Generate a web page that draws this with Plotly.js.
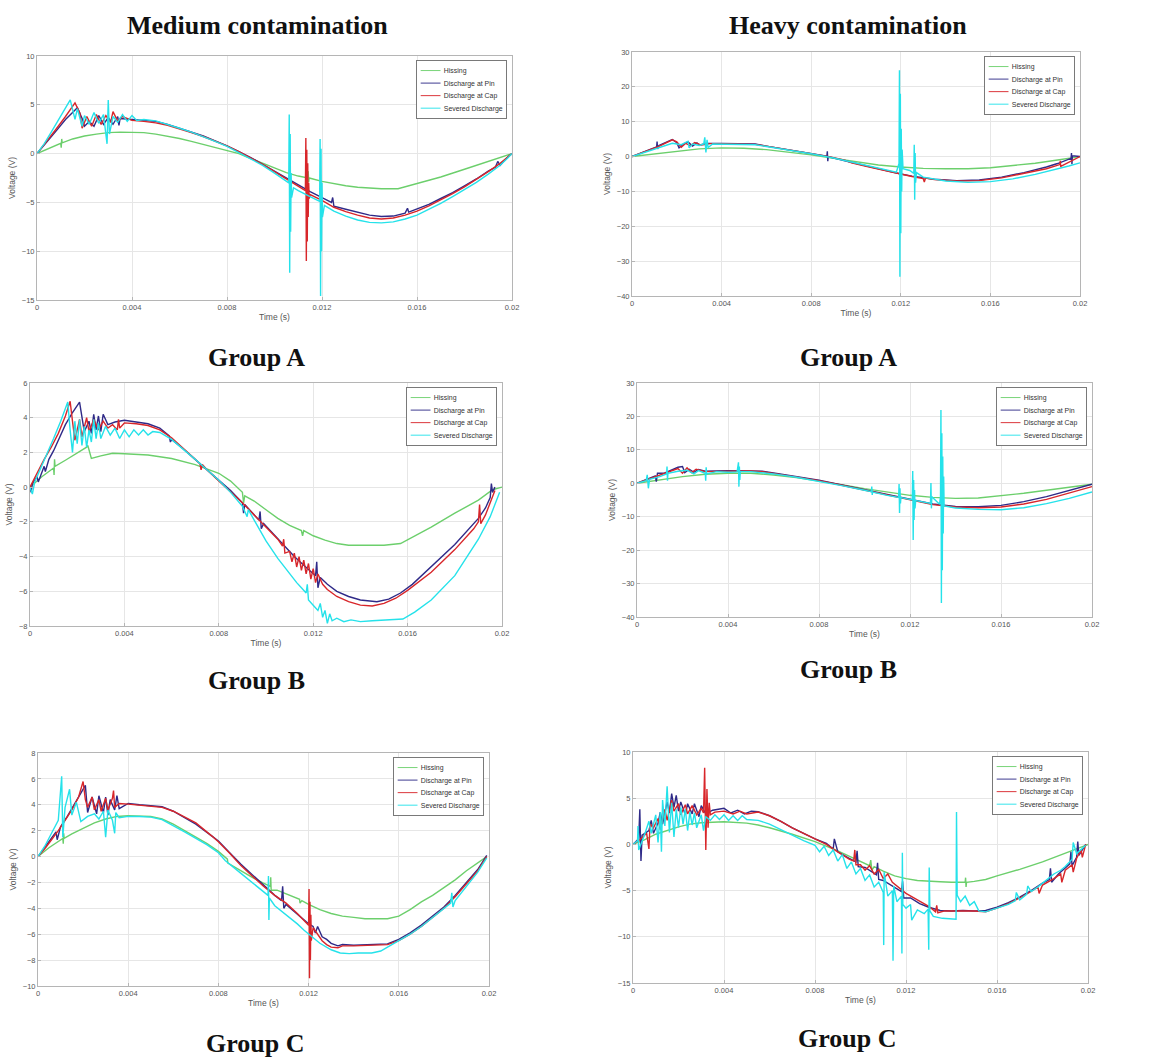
<!DOCTYPE html>
<html><head><meta charset="utf-8">
<script src="https://cdn.plot.ly/plotly-3.0.1.min.js"></script>
<style>html,body{margin:0;padding:0;background:#fff}#chart{width:1156px;height:1059px}</style>
</head><body><div id="chart"></div>
<script>
// ---------- DATA: [time (s), voltage (V)] ----------
const seriesNames = ["Hissing", "Discharge at Pin", "Discharge at Cap", "Severed Discharge"];
const xTickVals = [0, 0.004, 0.008, 0.012, 0.016, 0.02];
const xTickText = ["0", "0.004", "0.008", "0.012", "0.016", "0.02"];
const columnTitles = ["Medium contamination", "Heavy contamination"];
const groupLabels = ["Group A", "Group B", "Group C"];

// Medium contamination, Group A
const medA_hiss = [[0,0],[0.0005,0.55],[0.001,1.05],[0.00102,0.6],[0.00104,1.5],[0.00106,1.1],[0.0015,1.5],[0.002,1.8],[0.0025,2.0],[0.003,2.15],[0.0035,2.2],[0.004,2.2],[0.0045,2.15],[0.005,2.0],[0.0055,1.8],[0.006,1.55],[0.0065,1.25],[0.007,0.95],[0.0075,0.65],[0.008,0.35],[0.0085,0.0],[0.009,-0.5],[0.0095,-1.0],[0.01,-1.5],[0.0105,-1.95],[0.011,-2.3],[0.0114,-2.5],[0.01142,-1.8],[0.01144,-2.9],[0.01146,-2.5],[0.012,-2.85],[0.0125,-3.1],[0.013,-3.3],[0.0135,-3.45],[0.014,-3.55],[0.0145,-3.6],[0.0152,-3.6],[0.016,-3.1],[0.017,-2.4],[0.018,-1.6],[0.019,-0.8],[0.0198,-0.1],[0.02,0]];
const medA_pin = [[0,0],[0.0004,1.1],[0.0008,2.3],[0.0012,3.5],[0.0017,4.7],[0.0019,3.6],[0.002,2.8],[0.0022,3.3],[0.0024,2.8],[0.0026,3.9],[0.0028,3.0],[0.003,3.7],[0.0032,3.0],[0.0034,3.8],[0.00345,2.9],[0.0035,3.6],[0.004,3.5],[0.0045,3.45],[0.005,3.3],[0.0055,3.0],[0.006,2.6],[0.0065,2.2],[0.007,1.8],[0.0075,1.3],[0.008,0.8],[0.0085,0.2],[0.009,-0.4],[0.0095,-1.1],[0.01,-1.8],[0.0105,-2.5],[0.011,-3.2],[0.0115,-3.9],[0.012,-4.5],[0.0124,-5.0],[0.01245,-4.5],[0.0125,-5.4],[0.013,-5.7],[0.0135,-6.0],[0.014,-6.3],[0.0145,-6.45],[0.015,-6.4],[0.0155,-6.1],[0.0156,-5.6],[0.01565,-6.0],[0.016,-5.7],[0.0165,-5.2],[0.017,-4.6],[0.0175,-4.0],[0.018,-3.3],[0.0185,-2.6],[0.019,-1.8],[0.0193,-1.4],[0.0194,-0.8],[0.0195,-1.2],[0.0198,-0.4],[0.02,0]];
const medA_cap = [[0,0],[0.0004,1.2],[0.0008,2.5],[0.0012,3.8],[0.0016,5.2],[0.0018,4.2],[0.0019,2.6],[0.0021,3.8],[0.0023,2.8],[0.0025,4.0],[0.0027,3.0],[0.0029,3.9],[0.0031,3.2],[0.0032,4.3],[0.0034,3.3],[0.0036,3.8],[0.004,3.4],[0.0045,3.3],[0.005,3.15],[0.0055,2.9],[0.006,2.55],[0.0065,2.15],[0.007,1.75],[0.0075,1.3],[0.008,0.8],[0.0085,0.2],[0.009,-0.45],[0.0095,-1.1],[0.01,-1.85],[0.0105,-2.6],[0.011,-3.3],[0.0113,-3.8],[0.01132,1.6],[0.01134,-11.0],[0.01136,0.4],[0.01138,-9.0],[0.0114,-1.0],[0.01142,-6.5],[0.01144,-3.0],[0.01146,-4.6],[0.0115,-4.2],[0.012,-4.8],[0.0125,-5.5],[0.013,-5.95],[0.0135,-6.3],[0.014,-6.6],[0.0145,-6.7],[0.015,-6.6],[0.0155,-6.3],[0.016,-5.9],[0.0165,-5.35],[0.017,-4.75],[0.0175,-4.1],[0.018,-3.4],[0.0185,-2.65],[0.019,-1.85],[0.0195,-1.0],[0.0198,-0.4],[0.02,0]];
const medA_sev = [[0,0],[0.0003,1.0],[0.0006,2.2],[0.001,3.8],[0.0014,5.5],[0.0016,3.5],[0.0017,4.6],[0.0019,2.8],[0.002,3.9],[0.0022,3.0],[0.0024,4.2],[0.0026,3.1],[0.0028,4.0],[0.00295,1.0],[0.003,5.5],[0.00305,2.0],[0.0032,3.8],[0.0034,3.2],[0.0036,4.0],[0.0038,3.3],[0.004,3.9],[0.0042,3.4],[0.0045,3.5],[0.005,3.35],[0.0055,3.0],[0.006,2.6],[0.0065,2.2],[0.007,1.75],[0.0075,1.25],[0.008,0.75],[0.0085,0.1],[0.009,-0.5],[0.0095,-1.2],[0.01,-2.0],[0.0104,-2.7],[0.0106,-3.0],[0.01062,4.0],[0.01064,-12.2],[0.01066,2.0],[0.01068,-8.0],[0.0107,-2.0],[0.01072,-4.5],[0.0108,-3.5],[0.011,-3.8],[0.0115,-4.4],[0.0119,-4.9],[0.01192,1.5],[0.01194,-14.6],[0.01196,0.5],[0.01198,-10.0],[0.012,-3.0],[0.01202,-6.5],[0.0121,-5.3],[0.0125,-5.9],[0.013,-6.4],[0.0135,-6.8],[0.014,-7.05],[0.0145,-7.1],[0.015,-7.0],[0.0155,-6.7],[0.016,-6.3],[0.0165,-5.7],[0.017,-5.1],[0.0175,-4.4],[0.018,-3.7],[0.0185,-2.95],[0.019,-2.1],[0.0195,-1.2],[0.0198,-0.5],[0.02,0]];

// Heavy contamination, Group A
const heavA_hiss = [[0,0],[0.001,0.8],[0.002,1.6],[0.003,2.2],[0.004,2.5],[0.005,2.4],[0.006,2.0],[0.007,1.3],[0.008,0.5],[0.0085,0.0],[0.009,-0.5],[0.01,-1.5],[0.011,-2.4],[0.012,-3.0],[0.013,-3.4],[0.014,-3.5],[0.015,-3.5],[0.016,-3.2],[0.017,-2.6],[0.018,-1.9],[0.019,-1.0],[0.0197,-0.3],[0.02,0]];
const heavA_pin = [[0,0],[0.0006,1.5],[0.0011,2.8],[0.00112,4.3],[0.00114,2.2],[0.0012,3.2],[0.0018,4.9],[0.002,4.0],[0.0021,2.5],[0.0023,3.6],[0.0025,4.2],[0.0027,3.0],[0.0029,3.9],[0.003,3.3],[0.0033,3.8],[0.004,3.8],[0.005,3.7],[0.0055,3.6],[0.006,3.0],[0.007,2.0],[0.008,0.9],[0.0087,0.1],[0.00872,1.5],[0.00874,-1.3],[0.00876,0],[0.0095,-1.2],[0.0105,-2.8],[0.0115,-4.3],[0.012,-5.0],[0.0125,-5.6],[0.013,-6.1],[0.0135,-6.5],[0.0145,-6.9],[0.0155,-6.7],[0.0165,-5.9],[0.0175,-4.6],[0.0185,-3.0],[0.019,-2.0],[0.0196,-0.5],[0.01962,1.0],[0.01964,-2.2],[0.01966,0.2],[0.02,0]];
const heavA_cap = [[0,0],[0.0006,1.4],[0.0012,2.9],[0.0018,4.8],[0.002,4.2],[0.0022,2.7],[0.0024,3.8],[0.0026,3.1],[0.0028,4.0],[0.0031,3.3],[0.0035,3.7],[0.004,3.7],[0.005,3.6],[0.0055,3.5],[0.006,3.0],[0.007,2.0],[0.008,0.9],[0.0088,0],[0.0095,-1.0],[0.0098,-1.8],[0.0105,-2.9],[0.0115,-4.4],[0.012,-5.1],[0.0125,-5.7],[0.013,-6.3],[0.01305,-7.3],[0.0131,-6.2],[0.0135,-6.6],[0.0145,-7.0],[0.0155,-6.9],[0.0165,-6.1],[0.0175,-4.9],[0.0185,-3.5],[0.0191,-2.3],[0.01912,-1.2],[0.01914,-2.8],[0.0195,-1.6],[0.02,0]];
const heavA_sev = [[0,0],[0.0006,1.2],[0.0012,2.6],[0.0018,3.8],[0.0022,3.4],[0.0025,4.4],[0.00255,2.5],[0.0027,3.6],[0.003,3.2],[0.0032,3.6],[0.00325,5.5],[0.0033,1.2],[0.00335,4.8],[0.0034,2.6],[0.0036,3.6],[0.004,3.6],[0.005,3.5],[0.0055,3.4],[0.006,2.9],[0.007,1.9],[0.008,0.8],[0.009,-0.4],[0.01,-1.8],[0.011,-3.3],[0.0118,-4.5],[0.01192,-2.0],[0.01194,24.8],[0.01196,-34.5],[0.01198,18.0],[0.012,-22.0],[0.01202,8.0],[0.01204,-10.0],[0.01206,2.0],[0.0121,-3.5],[0.0124,-4.0],[0.01258,-4.8],[0.0126,3.4],[0.01262,-12.4],[0.01264,1.0],[0.01266,-7.5],[0.0127,-4.6],[0.013,-5.9],[0.014,-7.0],[0.015,-7.4],[0.016,-7.2],[0.017,-6.4],[0.018,-5.1],[0.019,-3.6],[0.0195,-2.7],[0.02,-1.8]];

// Medium contamination, Group B
const medB_hiss = [[0,0],[0.0005,0.6],[0.001,1.1],[0.00102,0.7],[0.00104,1.6],[0.00106,1.2],[0.0015,1.55],[0.002,1.95],[0.0024,2.3],[0.00245,2.4],[0.0026,1.65],[0.003,1.8],[0.0035,1.95],[0.004,1.92],[0.005,1.85],[0.006,1.65],[0.007,1.3],[0.008,0.8],[0.0085,0.35],[0.009,-0.3],[0.00905,-0.9],[0.0091,-0.5],[0.0095,-0.8],[0.01,-1.3],[0.0105,-1.8],[0.011,-2.2],[0.0115,-2.5],[0.01155,-2.8],[0.0116,-2.5],[0.012,-2.8],[0.0125,-3.05],[0.013,-3.25],[0.0135,-3.35],[0.014,-3.35],[0.015,-3.35],[0.0157,-3.25],[0.0162,-2.9],[0.017,-2.3],[0.018,-1.5],[0.019,-0.75],[0.0196,-0.15],[0.02,0]];
const medB_pin = [[0,0],[0.00005,-0.3],[0.0001,0.2],[0.0003,0.6],[0.00035,0.3],[0.0005,0.9],[0.0006,1.2],[0.00065,0.9],[0.0008,1.6],[0.001,2.1],[0.0012,2.7],[0.0015,3.6],[0.0018,4.3],[0.0021,4.9],[0.0023,3.2],[0.0025,3.8],[0.0026,3.1],[0.0027,4.2],[0.0028,3.3],[0.0029,4.1],[0.003,3.2],[0.0031,4.2],[0.0033,3.6],[0.0036,3.75],[0.004,3.85],[0.0045,3.75],[0.005,3.65],[0.0055,3.4],[0.0059,2.95],[0.00595,2.6],[0.006,2.75],[0.0065,2.2],[0.007,1.6],[0.0075,1.0],[0.008,0.4],[0.0085,-0.2],[0.009,-0.9],[0.00905,-1.5],[0.0091,-1.0],[0.0095,-1.6],[0.0097,-1.9],[0.00975,-1.4],[0.0098,-2.4],[0.0099,-2.1],[0.0103,-2.7],[0.0108,-3.4],[0.0112,-4.0],[0.0116,-4.5],[0.012,-5.0],[0.0121,-5.1],[0.01215,-4.3],[0.0122,-5.8],[0.0123,-5.2],[0.0126,-5.6],[0.013,-6.0],[0.0135,-6.3],[0.014,-6.5],[0.0147,-6.6],[0.0152,-6.45],[0.0157,-6.1],[0.0162,-5.6],[0.017,-4.6],[0.018,-3.3],[0.019,-1.8],[0.0193,-1.2],[0.0195,-0.6],[0.01955,0.2],[0.0196,-0.3],[0.0197,0]];
const medB_cap = [[0,0],[0.0003,0.8],[0.0006,1.6],[0.0009,2.3],[0.0012,3.1],[0.0015,4.1],[0.0017,4.95],[0.0018,3.8],[0.0019,2.7],[0.0021,3.9],[0.0022,2.9],[0.0024,4.0],[0.0025,3.2],[0.0027,3.9],[0.0029,3.3],[0.0031,3.8],[0.0033,3.4],[0.0035,3.6],[0.0037,3.3],[0.00375,3.9],[0.0038,3.4],[0.004,3.7],[0.0045,3.65],[0.005,3.55],[0.0055,3.3],[0.006,2.85],[0.0065,2.25],[0.007,1.6],[0.0072,1.35],[0.00725,1.0],[0.0073,1.3],[0.0075,1.0],[0.008,0.35],[0.0085,-0.25],[0.009,-0.9],[0.0095,-1.6],[0.01,-2.3],[0.0105,-3.0],[0.0107,-3.4],[0.01075,-3.0],[0.0108,-3.8],[0.011,-3.7],[0.0111,-4.3],[0.0112,-3.8],[0.0113,-4.6],[0.0114,-4.0],[0.0115,-4.8],[0.0116,-4.2],[0.0117,-5.0],[0.0118,-4.4],[0.0119,-5.3],[0.012,-4.7],[0.0121,-5.5],[0.0122,-5.0],[0.0124,-5.6],[0.0126,-5.9],[0.013,-6.3],[0.0135,-6.6],[0.014,-6.8],[0.0145,-6.85],[0.015,-6.7],[0.0155,-6.4],[0.016,-5.95],[0.017,-4.9],[0.018,-3.6],[0.0188,-2.4],[0.019,-2.0],[0.01905,-1.0],[0.0191,-2.1],[0.0193,-1.6],[0.0197,-0.2]];
const medB_sev = [[0,0],[0.0001,-0.4],[0.0002,0.3],[0.0004,0.9],[0.0007,1.9],[0.001,2.8],[0.0013,3.8],[0.0016,4.9],[0.0017,3.3],[0.0018,2.0],[0.0019,3.8],[0.002,2.5],[0.0021,3.9],[0.0022,2.4],[0.0023,3.5],[0.0024,2.3],[0.0025,3.3],[0.0026,2.6],[0.0027,3.9],[0.0028,2.8],[0.0029,3.7],[0.003,2.8],[0.0032,3.5],[0.0034,3.0],[0.0036,3.4],[0.0038,2.8],[0.004,3.3],[0.0042,2.9],[0.0044,3.3],[0.0046,3.0],[0.0048,3.3],[0.005,3.0],[0.0052,3.2],[0.0055,3.15],[0.006,2.75],[0.0065,2.2],[0.007,1.6],[0.0075,1.0],[0.008,0.4],[0.0085,-0.3],[0.009,-1.1],[0.0092,-1.7],[0.00925,-1.3],[0.0095,-1.9],[0.01,-3.1],[0.0105,-4.1],[0.011,-5.0],[0.0113,-5.5],[0.0115,-5.8],[0.0117,-6.1],[0.01175,-5.6],[0.0118,-6.5],[0.012,-6.8],[0.0122,-7.1],[0.0123,-6.7],[0.0124,-7.5],[0.0125,-7.1],[0.0126,-7.85],[0.0127,-7.3],[0.0128,-7.7],[0.013,-7.55],[0.0133,-7.75],[0.0136,-7.65],[0.014,-7.75],[0.0145,-7.7],[0.015,-7.65],[0.0158,-7.6],[0.0163,-7.2],[0.017,-6.5],[0.018,-5.1],[0.019,-3.0],[0.0195,-1.7],[0.0199,-0.3]];

// Heavy contamination, Group B
const heavB_hiss = [[0,0],[0.001,1.0],[0.002,2.0],[0.003,2.7],[0.004,3.0],[0.005,3.0],[0.006,2.5],[0.007,1.7],[0.008,0.7],[0.009,-0.4],[0.01,-1.6],[0.011,-2.7],[0.012,-3.6],[0.013,-4.2],[0.014,-4.5],[0.015,-4.4],[0.016,-3.8],[0.017,-3.0],[0.018,-2.1],[0.019,-1.2],[0.02,-0.3]];
const heavB_pin = [[0,0],[0.0004,1.0],[0.0008,2.2],[0.00085,0.5],[0.0009,3.0],[0.0012,3.0],[0.0015,4.0],[0.0018,4.8],[0.002,5.0],[0.0021,3.2],[0.0023,4.2],[0.0025,3.3],[0.0027,4.1],[0.003,3.6],[0.004,3.8],[0.005,3.8],[0.0055,3.6],[0.006,3.1],[0.007,2.1],[0.008,0.9],[0.009,-0.5],[0.01,-1.9],[0.0105,-2.7],[0.011,-3.5],[0.012,-4.9],[0.013,-6.2],[0.014,-6.9],[0.015,-7.0],[0.016,-6.6],[0.017,-5.5],[0.018,-4.0],[0.019,-2.2],[0.02,-0.3]];
const heavB_cap = [[0,0],[0.0005,1.2],[0.001,2.4],[0.0015,3.6],[0.0018,4.4],[0.002,3.0],[0.0022,4.6],[0.0024,3.2],[0.0026,4.2],[0.003,3.5],[0.004,3.7],[0.005,3.7],[0.0055,3.5],[0.006,3.0],[0.007,2.0],[0.008,0.8],[0.009,-0.6],[0.01,-2.0],[0.011,-3.6],[0.012,-5.0],[0.013,-6.4],[0.014,-7.1],[0.015,-7.3],[0.016,-7.1],[0.017,-6.2],[0.018,-4.8],[0.019,-3.0],[0.02,-1.0]];
const heavB_sev = [[0,0],[0.0004,0.8],[0.00045,2.5],[0.0005,-1.5],[0.00055,1.2],[0.001,2.0],[0.0013,2.8],[0.00132,5.0],[0.00134,0.8],[0.00136,3.0],[0.0018,3.6],[0.0022,3.9],[0.0025,2.8],[0.0027,3.8],[0.003,3.0],[0.00302,0.8],[0.00304,4.8],[0.00306,2.8],[0.0035,3.5],[0.004,3.3],[0.0044,3.4],[0.00446,6.3],[0.00448,-1.0],[0.0045,5.0],[0.00452,1.0],[0.00454,3.5],[0.005,3.5],[0.006,2.8],[0.007,1.8],[0.008,0.6],[0.009,-0.7],[0.01,-2.1],[0.0103,-2.5],[0.01032,-1.0],[0.01034,-3.5],[0.01036,-2.6],[0.011,-3.6],[0.0115,-4.2],[0.01152,-0.2],[0.01154,-8.9],[0.01156,-1.5],[0.01158,-6.0],[0.0116,-4.3],[0.0121,-5.0],[0.01212,3.7],[0.01214,-17.0],[0.01216,1.0],[0.01218,-11.0],[0.0122,-2.0],[0.01222,-7.5],[0.01225,-5.2],[0.0129,-6.0],[0.01292,0.1],[0.01294,-7.5],[0.01296,-4.0],[0.0133,-6.3],[0.01334,-4.0],[0.01336,21.9],[0.01338,-35.8],[0.0134,15.0],[0.01342,-26.0],[0.01344,8.0],[0.01346,-15.0],[0.01348,2.0],[0.0135,-6.8],[0.014,-7.4],[0.015,-7.8],[0.016,-7.9],[0.017,-7.3],[0.018,-6.1],[0.019,-4.5],[0.02,-2.6]];

// Medium contamination, Group C
const medC_hiss = [[0,0],[0.0005,0.7],[0.0011,1.4],[0.00112,1.0],[0.00114,1.8],[0.00116,1.4],[0.0015,1.75],[0.002,2.2],[0.0025,2.6],[0.003,2.9],[0.0035,3.1],[0.004,3.15],[0.005,3.1],[0.0055,2.9],[0.006,2.5],[0.0065,2.0],[0.007,1.5],[0.0075,1.0],[0.008,0.4],[0.0084,-0.2],[0.00842,-0.5],[0.009,-1.1],[0.0095,-1.6],[0.01,-2.05],[0.0103,-2.3],[0.01032,-1.6],[0.01034,-2.6],[0.0106,-2.6],[0.011,-2.9],[0.0116,-3.3],[0.01162,-3.6],[0.0117,-3.4],[0.012,-3.7],[0.0125,-4.1],[0.013,-4.4],[0.0135,-4.6],[0.014,-4.7],[0.0145,-4.8],[0.0155,-4.8],[0.016,-4.6],[0.0165,-4.1],[0.017,-3.5],[0.0175,-3.0],[0.018,-2.4],[0.0185,-1.8],[0.019,-1.1],[0.0195,-0.5],[0.0199,0]];
const medC_pin = [[0,0],[0.0003,0.7],[0.0006,1.4],[0.0008,1.9],[0.00085,1.3],[0.001,2.3],[0.0013,3.1],[0.0016,4.0],[0.0019,4.9],[0.0021,5.5],[0.0022,3.4],[0.0024,4.6],[0.0026,3.3],[0.0027,4.7],[0.0029,3.4],[0.003,4.6],[0.0031,3.2],[0.0032,4.4],[0.0034,3.6],[0.0035,4.7],[0.0036,3.7],[0.004,4.1],[0.0045,4.0],[0.005,3.9],[0.0055,3.85],[0.006,3.5],[0.0063,3.2],[0.007,2.5],[0.0077,1.6],[0.008,1.2],[0.0085,0.3],[0.009,-0.6],[0.0095,-1.4],[0.01,-2.2],[0.0105,-3.0],[0.0108,-3.4],[0.01085,-2.3],[0.0109,-4.0],[0.011,-3.7],[0.0114,-4.3],[0.0118,-4.9],[0.012,-5.2],[0.0122,-5.4],[0.0123,-5.9],[0.0124,-5.4],[0.0126,-6.2],[0.0128,-6.4],[0.013,-6.7],[0.0133,-6.9],[0.0135,-6.8],[0.014,-6.85],[0.0145,-6.8],[0.015,-6.8],[0.0155,-6.75],[0.016,-6.4],[0.0165,-5.9],[0.017,-5.3],[0.0175,-4.6],[0.018,-3.9],[0.0185,-3.0],[0.019,-2.0],[0.0195,-1.0],[0.0199,0.1]];
const medC_cap = [[0,0],[0.0003,0.6],[0.0006,1.3],[0.0009,2.0],[0.0012,2.8],[0.0015,3.6],[0.0018,4.6],[0.002,5.8],[0.0021,4.4],[0.0022,3.8],[0.0024,4.6],[0.0025,3.6],[0.0027,4.4],[0.0028,3.5],[0.003,4.5],[0.0031,3.6],[0.0033,4.5],[0.00335,5.1],[0.0034,3.8],[0.0036,4.1],[0.004,4.05],[0.0045,3.95],[0.005,3.85],[0.0055,3.8],[0.006,3.5],[0.007,2.6],[0.0077,1.6],[0.008,1.15],[0.0085,0.25],[0.009,-0.7],[0.0095,-1.5],[0.01,-2.3],[0.0105,-3.0],[0.011,-3.6],[0.0115,-4.4],[0.0118,-4.9],[0.012,-5.3],[0.01202,-2.5],[0.01204,-9.4],[0.01206,-3.5],[0.01208,-8.0],[0.0121,-4.5],[0.01212,-6.5],[0.0122,-5.5],[0.0124,-6.0],[0.0126,-6.5],[0.0128,-6.8],[0.013,-7.0],[0.0133,-7.05],[0.0135,-6.9],[0.014,-6.9],[0.0145,-6.85],[0.015,-6.85],[0.0155,-6.8],[0.016,-6.5],[0.0165,-6.0],[0.017,-5.4],[0.0175,-4.7],[0.018,-4.0],[0.0185,-3.1],[0.019,-2.1],[0.0195,-1.1],[0.0199,0]];
const medC_sev = [[0,0],[0.0003,0.8],[0.0006,1.8],[0.0009,2.8],[0.00105,6.2],[0.0011,1.5],[0.0012,3.8],[0.0014,5.2],[0.0015,3.2],[0.0017,4.2],[0.0019,2.7],[0.0022,3.1],[0.0025,3.3],[0.0027,2.9],[0.0029,3.5],[0.003,1.5],[0.0031,3.6],[0.0033,2.8],[0.0034,1.8],[0.00345,3.4],[0.0036,3.0],[0.004,3.1],[0.0045,3.1],[0.005,3.05],[0.0055,2.85],[0.006,2.4],[0.0065,1.9],[0.007,1.4],[0.0075,0.9],[0.008,0.3],[0.0083,-0.3],[0.009,-1.3],[0.0095,-2.0],[0.01,-2.7],[0.0102,-3.0],[0.01022,-1.5],[0.01024,-4.9],[0.01026,-3.2],[0.0105,-3.8],[0.011,-4.5],[0.0115,-5.2],[0.0118,-5.7],[0.012,-6.0],[0.0125,-6.7],[0.013,-7.2],[0.0134,-7.45],[0.0138,-7.5],[0.0142,-7.45],[0.0148,-7.45],[0.0152,-7.3],[0.0155,-7.0],[0.016,-6.5],[0.0165,-6.0],[0.017,-5.4],[0.0175,-4.7],[0.018,-4.0],[0.0183,-3.6],[0.01835,-2.8],[0.0184,-3.9],[0.0185,-3.4],[0.019,-2.3],[0.0195,-1.2],[0.0199,-0.1]];

// Heavy contamination, Group C
const heavC_hiss = [[0,0],[0.0005,0.5],[0.001,1.1],[0.0015,1.5],[0.002,1.9],[0.0025,2.2],[0.003,2.35],[0.004,2.45],[0.005,2.3],[0.0055,2.1],[0.006,1.8],[0.007,1.1],[0.008,0.3],[0.009,-0.7],[0.0095,-1.3],[0.01,-1.9],[0.0104,-2.3],[0.01045,-1.7],[0.0105,-2.8],[0.0106,-2.4],[0.011,-2.9],[0.0115,-3.4],[0.012,-3.7],[0.0125,-3.9],[0.013,-4.0],[0.0135,-4.05],[0.014,-4.1],[0.0146,-4.1],[0.01462,-3.6],[0.01464,-4.6],[0.01466,-4.1],[0.015,-4.0],[0.0155,-3.8],[0.016,-3.4],[0.017,-2.7],[0.018,-1.9],[0.019,-1.0],[0.0197,-0.3],[0.02,0]];
const heavC_pin = [[0,0],[0.00025,0.6],[0.0003,3.8],[0.00035,-1.8],[0.0004,1.0],[0.0007,1.5],[0.0008,2.6],[0.0009,1.2],[0.0011,2.3],[0.0012,3.5],[0.0013,2.2],[0.0015,4.6],[0.0016,3.4],[0.0017,5.5],[0.0018,4.0],[0.0019,5.3],[0.002,3.6],[0.0021,4.6],[0.0023,3.2],[0.0024,4.4],[0.0026,3.3],[0.0027,4.4],[0.0029,3.0],[0.003,4.2],[0.0032,3.3],[0.0035,3.7],[0.004,3.9],[0.0043,3.4],[0.0046,3.7],[0.0049,3.3],[0.0052,3.6],[0.0055,3.55],[0.006,3.1],[0.0065,2.5],[0.007,1.8],[0.0075,1.2],[0.008,0.6],[0.0085,0.1],[0.0088,-0.5],[0.00885,0.6],[0.009,-0.8],[0.0095,-1.5],[0.0098,-1.9],[0.00985,-0.7],[0.0099,-2.4],[0.0102,-2.5],[0.0105,-3.0],[0.0107,-3.3],[0.01075,-2.0],[0.0108,-3.8],[0.011,-3.9],[0.0115,-4.6],[0.0118,-5.1],[0.01185,-4.0],[0.0119,-5.8],[0.0122,-5.8],[0.0126,-6.4],[0.013,-6.8],[0.0135,-7.15],[0.014,-7.2],[0.0145,-7.15],[0.015,-7.2],[0.0155,-7.15],[0.016,-6.8],[0.0165,-6.3],[0.017,-5.7],[0.0175,-5.0],[0.018,-4.2],[0.0183,-3.8],[0.01835,-2.6],[0.0184,-4.1],[0.0187,-3.2],[0.019,-2.5],[0.0192,-2.1],[0.01925,-0.8],[0.0193,-2.3],[0.0195,-1.4],[0.01955,0.3],[0.0196,-1.2],[0.0199,0]];
const heavC_cap = [[0,0],[0.0003,0.5],[0.0006,1.2],[0.0007,-0.5],[0.00075,2.2],[0.0009,1.8],[0.0011,2.8],[0.0012,1.6],[0.0014,3.8],[0.0015,2.6],[0.0017,4.8],[0.0018,3.6],[0.002,4.4],[0.0021,3.2],[0.0023,4.3],[0.0024,3.3],[0.0026,4.2],[0.0028,3.2],[0.003,3.9],[0.0031,3.4],[0.00315,8.3],[0.0032,-0.6],[0.00325,6.0],[0.0033,1.8],[0.00335,4.5],[0.0034,3.2],[0.0036,3.5],[0.004,3.6],[0.0044,3.3],[0.0047,3.6],[0.005,3.3],[0.0055,3.5],[0.006,3.1],[0.0065,2.5],[0.007,1.8],[0.0075,1.2],[0.008,0.6],[0.0085,0.0],[0.009,-0.8],[0.0095,-1.6],[0.0097,-1.8],[0.00975,-0.6],[0.0098,-2.2],[0.01,-2.2],[0.0102,-2.8],[0.0104,-2.3],[0.0106,-3.2],[0.0108,-2.7],[0.011,-3.7],[0.0112,-3.2],[0.0114,-4.1],[0.0116,-4.5],[0.012,-5.3],[0.0125,-6.0],[0.013,-6.7],[0.0133,-7.3],[0.01335,-6.6],[0.0134,-7.4],[0.0137,-7.2],[0.014,-7.2],[0.0145,-7.2],[0.015,-7.2],[0.0155,-7.3],[0.016,-6.9],[0.0165,-6.4],[0.017,-5.8],[0.0175,-5.1],[0.0178,-4.6],[0.01785,-5.3],[0.018,-4.4],[0.0185,-3.7],[0.0188,-3.2],[0.01885,-4.1],[0.019,-2.8],[0.0193,-2.2],[0.01935,-3.0],[0.0195,-1.5],[0.0197,-0.6],[0.01975,-1.4],[0.0199,0]];
const heavC_sev = [[0,0],[0.0002,0.4],[0.00022,2.0],[0.00025,-0.6],[0.0005,1.0],[0.0007,2.5],[0.0008,1.2],[0.001,3.2],[0.0011,0.2],[0.0012,3.5],[0.00125,-0.8],[0.0013,4.8],[0.0014,2.0],[0.0015,6.3],[0.0016,1.3],[0.0017,4.5],[0.0018,0.8],[0.0019,3.8],[0.002,1.8],[0.0021,4.0],[0.0022,2.2],[0.0023,3.8],[0.0024,1.5],[0.0025,3.5],[0.0026,2.1],[0.0027,3.4],[0.0028,1.8],[0.003,3.2],[0.0031,1.5],[0.0032,3.0],[0.0034,2.6],[0.0036,3.2],[0.0038,2.7],[0.004,3.2],[0.0042,2.6],[0.0044,3.1],[0.0046,2.6],[0.0048,3.1],[0.005,2.7],[0.0055,2.6],[0.006,2.2],[0.0065,1.6],[0.007,1.0],[0.0075,0.4],[0.008,-0.1],[0.0082,-0.8],[0.0084,-0.2],[0.0086,-1.2],[0.0088,-0.6],[0.009,-1.8],[0.0092,-1.1],[0.0094,-2.6],[0.0096,-1.9],[0.0098,-3.2],[0.01,-2.6],[0.0102,-3.9],[0.0104,-3.3],[0.0106,-4.6],[0.0108,-4.1],[0.011,-5.2],[0.01102,-10.9],[0.01104,-3.0],[0.0112,-5.6],[0.0114,-5.0],[0.01143,-12.6],[0.01146,-4.5],[0.0116,-6.2],[0.0118,-5.6],[0.01182,-11.8],[0.01184,-0.9],[0.01186,-6.5],[0.012,-6.9],[0.0122,-6.5],[0.01225,-8.2],[0.0125,-7.1],[0.0128,-7.5],[0.01297,-7.0],[0.013,-11.4],[0.01302,-2.5],[0.01305,-7.2],[0.0132,-7.8],[0.0136,-8.0],[0.014,-8.1],[0.0142,-8.1],[0.01422,3.5],[0.01425,-5.5],[0.0144,-6.2],[0.0146,-5.6],[0.0148,-6.6],[0.015,-6.2],[0.0152,-7.2],[0.0155,-7.3],[0.016,-6.9],[0.0165,-6.5],[0.0168,-6.1],[0.01685,-5.2],[0.017,-6.0],[0.0173,-5.4],[0.01735,-4.5],[0.0175,-5.1],[0.0178,-4.6],[0.018,-4.2],[0.0182,-3.8],[0.0185,-3.2],[0.0188,-2.8],[0.019,-2.4],[0.0193,-1.6],[0.01935,0.2],[0.0195,-1.0],[0.0199,-0.1]];

// ---------- STYLE / LAYOUT ----------
const seriesColors = ["#6ccf6c", "#2f2a88", "#d8262a", "#25e2ea"];
const W = 1156, H = 1059;
// pixel boxes of the six plot areas [left, right, top, bottom]
const panels = [
  {series: [medA_hiss, medA_pin, medA_cap, medA_sev], yr: [-15, 10], dt: 5, box: [37, 512, 56, 300]},
  {series: [heavA_hiss, heavA_pin, heavA_cap, heavA_sev], yr: [-40, 30], dt: 10, box: [632, 1080, 52, 296]},
  {series: [medB_hiss, medB_pin, medB_cap, medB_sev], yr: [-8, 6], dt: 2, box: [30, 502, 383, 626]},
  {series: [heavB_hiss, heavB_pin, heavB_cap, heavB_sev], yr: [-40, 30], dt: 10, box: [637, 1092, 383, 617]},
  {series: [medC_hiss, medC_pin, medC_cap, medC_sev], yr: [-10, 8], dt: 2, box: [38, 489, 753, 986]},
  {series: [heavC_hiss, heavC_pin, heavC_cap, heavC_sev], yr: [-15, 10], dt: 5, box: [633, 1088, 752, 983]}
];
const LEG_SCALE = 0.66;

const traces = [];
const layout = {
  width: W, height: H,
  margin: {l: 0, r: 0, t: 0, b: 0},
  paper_bgcolor: "#ffffff", plot_bgcolor: "#ffffff",
  font: {family: "Liberation Sans, Arial, sans-serif", color: "#444"},
  annotations: [], showlegend: true
};

panels.forEach((p, i) => {
  const n = i + 1;
  const xa = n === 1 ? "x" : "x" + n;
  const ya = n === 1 ? "y" : "y" + n;
  const lg = n === 1 ? "legend" : "legend" + n;
  const xd = [p.box[0] / W, p.box[1] / W];
  const yd = [1 - p.box[3] / H, 1 - p.box[2] / H];
  p.series.forEach((s, k) => {
    traces.push({
      type: "scatter", mode: "lines",
      x: s.map(d => d[0]), y: s.map(d => d[1]),
      name: seriesNames[k], xaxis: xa, yaxis: ya, legend: lg,
      line: {color: seriesColors[k], width: 1.4},
      hoverinfo: "skip"
    });
  });
  const axCommon = {
    showgrid: true, gridcolor: "#e6e6e6", gridwidth: 1,
    zeroline: false, showline: true, linecolor: "#b5b5b5", linewidth: 1, mirror: true,
    ticks: "inside", ticklen: 3, tickcolor: "#b5b5b5",
    tickfont: {size: 7.5, color: "#555", family: "Liberation Sans, Arial, sans-serif"}
  };
  layout["xaxis" + (n === 1 ? "" : n)] = Object.assign({}, axCommon, {
    domain: xd, anchor: ya, range: [0, 0.02],
    tickvals: xTickVals, ticktext: xTickText,
    title: {text: "Time (s)", font: {size: 8.5, color: "#555"}, standoff: 3}
  });
  layout["yaxis" + (n === 1 ? "" : n)] = Object.assign({}, axCommon, {
    domain: yd, anchor: xa, range: p.yr, dtick: p.dt, tick0: 0,
    title: {text: "Voltage (V)", font: {size: 8.5, color: "#555"}, standoff: 4}
  });
  layout[lg] = {
    x: xd[1] - 4 / W, xanchor: "right", y: yd[1] - 4 / H, yanchor: "top",
    xref: "paper", yref: "paper",
    bgcolor: "#ffffff", bordercolor: "#777", borderwidth: 1.5,
    font: {size: 10.5, color: "#333", family: "Liberation Sans, Arial, sans-serif"},
    itemwidth: 30, tracegroupgap: 0
  };
});

// headings
const serif = "Liberation Serif, Times New Roman, serif";
const headings = [
  {t: columnTitles[0], x: 257, y: 25},
  {t: columnTitles[1], x: 848, y: 25},
  {t: groupLabels[0], x: 256, y: 357},
  {t: groupLabels[0], x: 848, y: 357},
  {t: groupLabels[1], x: 256, y: 680},
  {t: groupLabels[1], x: 848, y: 669},
  {t: groupLabels[2], x: 255, y: 1043},
  {t: groupLabels[2], x: 847, y: 1038}
];
headings.forEach(h => {
  layout.annotations.push({
    text: "<b>" + h.t + "</b>", xref: "paper", yref: "paper",
    x: h.x / W, y: 1 - h.y / H, xanchor: "center", yanchor: "middle",
    showarrow: false, font: {family: serif, size: 26, color: "#111"}
  });
});

Plotly.newPlot("chart", traces, layout, {staticPlot: true, displayModeBar: false}).then(gd => {
  // shrink each legend box about its top-right corner so rows are as compact as the reference
  panels.forEach((p, i) => {
    const id = i === 0 ? "legend" : "legend" + (i + 1);
    const g = gd.querySelector("g." + id);
    if (!g) return;
    const bg = g.querySelector("rect.bg");
    const w = bg ? parseFloat(bg.getAttribute("width")) : 0;
    const m = /translate\(\s*([-\d.e]+)[ ,]+([-\d.e]+)\s*\)/.exec(g.getAttribute("transform") || "");
    if (!m) return;
    const tx = parseFloat(m[1]), ty = parseFloat(m[2]);
    g.setAttribute("transform", "translate(" + (tx + w * (1 - LEG_SCALE)) + "," + ty + ") scale(" + LEG_SCALE + ")");
  });
});
</script>
</body></html>
